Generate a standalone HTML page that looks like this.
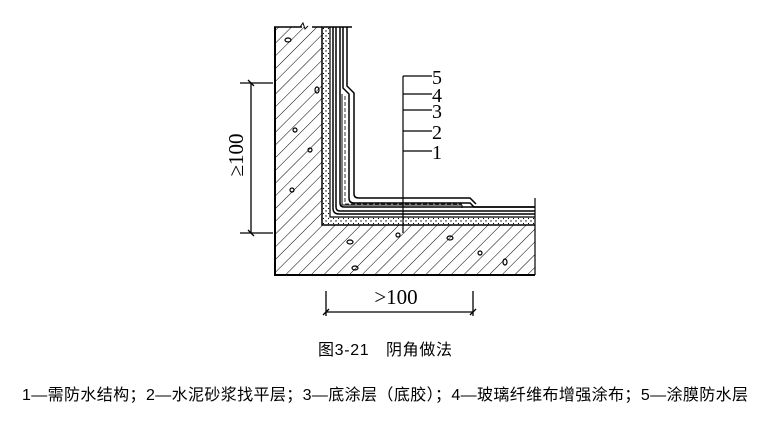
<!DOCTYPE html>
<html><head><meta charset="utf-8"><style>
html,body{margin:0;padding:0;background:#fff;width:768px;height:425px;overflow:hidden}
svg{display:block}
</style></head><body>
<svg width="768" height="425" viewBox="0 0 768 425" xmlns="http://www.w3.org/2000/svg">
<defs>
<pattern id="h" width="9" height="9" patternUnits="userSpaceOnUse" patternTransform="rotate(45)">
<line x1="0" y1="0" x2="0" y2="9" stroke="#000" stroke-width="1"/>
</pattern>
<pattern id="d" width="5" height="5" patternUnits="userSpaceOnUse">
<circle cx="1" cy="1" r="0.7" fill="#000"/><circle cx="3.5" cy="3.5" r="0.6" fill="#000"/>
</pattern>
</defs>
<path d="M275 27 L322 27 L322 225 L535 225 L535 275 L275 275 Z" fill="url(#h)"/>
<path d="M275 27 L275 275 L535 275" fill="none" stroke="#000" stroke-width="2"/>
<path d="M322 27 L322 225 L535 225" fill="none" stroke="#000" stroke-width="1.5"/>
<line x1="274" y1="27" x2="302" y2="27" stroke="#000" stroke-width="1.5"/>
<line x1="312" y1="27" x2="352" y2="27" stroke="#000" stroke-width="1.5"/>
<path d="M300 27 l3 -4 l2 6 l3 -3" fill="none" stroke="#000"/>
<line x1="535" y1="198" x2="535" y2="275" stroke="#000" stroke-width="1.2"/>
<g fill="none" stroke="#000" stroke-width="1.2">
<ellipse cx="288" cy="40" rx="3" ry="2"/><ellipse cx="317" cy="90" rx="2" ry="3"/><ellipse cx="295" cy="130" rx="2" ry="2"/>
<ellipse cx="350" cy="242" rx="3" ry="2"/><ellipse cx="398" cy="235" rx="2" ry="2"/><ellipse cx="450" cy="238" rx="3" ry="2"/>
<ellipse cx="355" cy="268" rx="3" ry="2"/><ellipse cx="505" cy="262" rx="2" ry="3"/><ellipse cx="480" cy="253" rx="2" ry="2"/>
<ellipse cx="292" cy="190" rx="2" ry="2"/><ellipse cx="310" cy="150" rx="2" ry="2"/>
</g>
<path d="M322 27 L330 27 L330 217 L535 217 L535 225 L322 225 Z" fill="url(#d)"/>
<path d="M330 27 L330 217 L535 217" fill="none" stroke="#000" stroke-width="1.2"/>
<g fill="none" stroke="#000">
<path d="M333 27 V208 Q333 214 339 214 H535" stroke-width="1.5"/>
<path d="M336 27 V207 Q336 211 340 211 H535" stroke-width="1.5"/>
<path d="M340 27 V203 Q340 207 344 207 H535" stroke-width="1.5"/>
<path d="M343 27 V88 L349 94 V198 Q349 203 354 203 H470 L474 207 H535" stroke-width="1.5"/>
<path d="M347 27 V86 L354 93 V194 Q354 198 359 198 H470 L476 204" stroke-width="1.5"/>
<path d="M342 94 V205 H462" stroke-width="1"/>
<path d="M345 96 V204 H462" stroke-width="0.8" stroke-dasharray="4 2"/>
<path d="M462 205 V208" stroke-width="1"/>
</g>
<g stroke="#000" stroke-width="1.2" fill="none">
<line x1="403" y1="76" x2="403" y2="233"/>
<line x1="403" y1="76" x2="432" y2="76"/>
<line x1="403" y1="94" x2="432" y2="94"/>
<line x1="403" y1="110" x2="432" y2="110"/>
<line x1="403" y1="131" x2="432" y2="131"/>
<line x1="403" y1="151" x2="432" y2="151"/>
</g>
<g font-family="Liberation Serif, serif" font-size="20" fill="#000">
<text x="432" y="84">5</text><text x="432" y="102">4</text><text x="432" y="118">3</text>
<text x="432" y="139">2</text><text x="432" y="159">1</text>
</g>
<g stroke="#000" stroke-width="1.3">
<line x1="251" y1="83" x2="251" y2="233"/>
<line x1="240" y1="83" x2="273" y2="83"/>
<line x1="240" y1="233" x2="273" y2="233"/>
<line x1="248" y1="80" x2="254" y2="86"/><line x1="248" y1="230" x2="254" y2="236"/>
</g>
<text transform="translate(243,155) rotate(-90)" text-anchor="middle" font-family="Liberation Serif, DejaVu Serif, serif" font-size="21">≥100</text>
<g stroke="#000" stroke-width="1.3">
<line x1="326" y1="291" x2="326" y2="316"/>
<line x1="473" y1="291" x2="473" y2="316"/>
<line x1="326" y1="312" x2="473" y2="312"/>
<line x1="323" y1="315" x2="329" y2="309"/><line x1="470" y1="315" x2="476" y2="309"/>
</g>
<text x="396" y="304" text-anchor="middle" font-family="Liberation Serif, serif" font-size="21">&gt;100</text>
<text x="385" y="355" text-anchor="middle" textLength="134" font-family="Liberation Sans, Noto Sans CJK SC, sans-serif" font-size="16">图3-21　阴角做法</text>
<text x="385" y="400" text-anchor="middle" textLength="726" font-family="Liberation Sans, Noto Sans CJK SC, sans-serif" font-size="16">1—需防水结构；2—水泥砂浆找平层；3—底涂层（底胶）；4—玻璃纤维布增强涂布；5—涂膜防水层</text>
</svg>
</body></html>
